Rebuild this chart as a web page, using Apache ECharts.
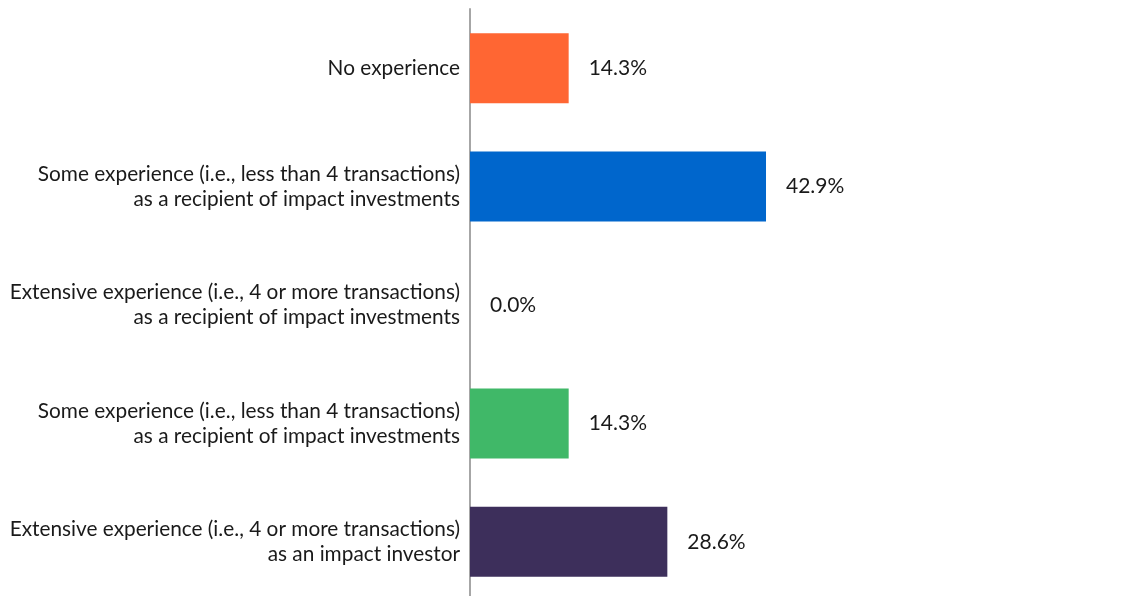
<!DOCTYPE html>
<html><head><meta charset="utf-8">
<script src="https://cdn.jsdelivr.net/npm/echarts@6/dist/echarts.min.js"></script>
<style>html,body{margin:0;padding:0;background:#fff}#c{width:1146px;height:596px}</style>
</head><body><div id="c"></div>
<script>
const categories = [
  "No experience",
  "Some experience (i.e., less than 4 transactions)\nas a recipient of impact investments",
  "Extensive experience (i.e., 4 or more transactions)\nas a recipient of impact investments",
  "Some experience (i.e., less than 4 transactions)\nas a recipient of impact investments",
  "Extensive experience (i.e., 4 or more transactions)\nas an impact investor"
];
const values = [14.3, 42.9, 0.0, 14.3, 28.6];
const colors = ["#FF6633", "#0066CC", "#8A8A8A", "#40B868", "#3D2F5B"];

const chart = echarts.init(document.getElementById('c'));
chart.setOption({
  animation: false,
  grid: { left: 470, top: 9, width: 621, height: 592, containLabel: false, outerBoundsMode: 'none' },
  xAxis: { type: 'value', min: 0, max: 90, show: false },
  yAxis: {
    type: 'category', data: categories, inverse: true,
    axisLine: { show: true, lineStyle: { color: '#A6A6A6', width: 2 } },
    axisTick: { show: false },
    axisLabel: { fontFamily: 'Lato', fontSize: 20.8, color: '#1a1a1a', lineHeight: 25, margin: 10, align: 'right' }
  },
  series: [{
    type: 'bar', barWidth: 70,
    data: values.map((v, i) => ({ value: v, itemStyle: { color: colors[i] } })),
    label: { show: true, position: 'right', distance: 20, fontFamily: 'Lato', fontSize: 21, color: '#1a1a1a',
      formatter: p => p.value.toFixed(1) + '%' }
  }]
});
</script></body></html>
